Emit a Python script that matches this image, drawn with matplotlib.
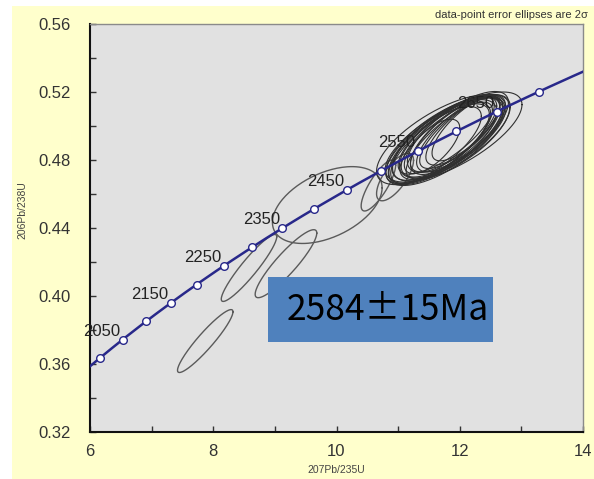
import numpy as np
import matplotlib
matplotlib.use("Agg")
import matplotlib.pyplot as plt
from matplotlib.patches import Rectangle
from matplotlib.ticker import MultipleLocator

# decay constants (1/Ma)
L238 = 1.55125e-4
L235 = 9.8485e-4

marker_ages = [2000, 2050, 2100, 2150, 2200, 2250, 2300, 2350, 2400,
               2450, 2500, 2550, 2600, 2650, 2700]
label_ages = [2050, 2150, 2250, 2350, 2450, 2550, 2650]

# error ellipses: centre x, centre y, 2s x, 2s y, rho
ell_cx = [7.87, 8.58, 9.18, 9.85, 10.68, 10.95,
          11.90, 11.85, 11.80, 11.90, 11.75, 11.95, 12.00, 11.70, 11.88,
          12.05, 11.65, 11.78, 11.92, 12.10, 11.60, 11.83, 11.97, 11.55,
          11.72, 11.86, 12.02, 11.68]
ell_cy = [0.3735, 0.4165, 0.4190, 0.4535, 0.4650, 0.4700,
          0.4935, 0.4935, 0.4930, 0.4950, 0.4910, 0.4945, 0.4960, 0.4920, 0.4925,
          0.4970, 0.4900, 0.4945, 0.4940, 0.4985, 0.4890, 0.4915, 0.4965, 0.4880,
          0.4905, 0.4930, 0.4955, 0.4895]
ell_sx = [0.45, 0.45, 0.50, 0.89, 0.28, 0.30,
          1.11, 0.80, 0.90, 0.70, 0.95, 0.75, 0.65, 1.05, 0.85,
          0.60, 0.85, 0.78, 0.90, 0.55, 0.75, 0.70, 0.82, 0.45,
          0.88, 0.95, 0.72, 0.80]
ell_sy = [0.0185, 0.0197, 0.0200, 0.0226, 0.0150, 0.0140,
          0.0265, 0.0235, 0.0250, 0.0220, 0.0260, 0.0230, 0.0210, 0.0265, 0.0240,
          0.0200, 0.0240, 0.0228, 0.0245, 0.0190, 0.0225, 0.0225, 0.0238, 0.0160,
          0.0250, 0.0255, 0.0225, 0.0235]
ell_rho = [0.93, 0.93, 0.90, 0.45, 0.80, 0.70,
           0.72, 0.74, 0.72, 0.76, 0.70, 0.74, 0.78, 0.70, 0.75,
           0.76, 0.73, 0.77, 0.71, 0.76, 0.74, 0.79, 0.73, 0.68,
           0.72, 0.70, 0.75, 0.74]


def concordia(t):
    t = np.asarray(t, dtype=float)
    return np.exp(L235 * t) - 1, np.exp(L238 * t) - 1


fig = plt.figure(figsize=(5.94, 4.79), dpi=100)
fig.patches.append(Rectangle((12 / 594, 0), 1 - 12 / 594, 1 - 6 / 479,
                             transform=fig.transFigure, facecolor="#ffffcc",
                             edgecolor="none", zorder=-10))
ax = fig.add_axes([90 / 594, 47 / 479, 493 / 594, 408 / 479])
ax.set_facecolor("#e1e1e1")

# ellipses
th = np.linspace(0, 2 * np.pi, 200)
for i, (cx, cy, sx, sy, r) in enumerate(zip(ell_cx, ell_cy, ell_sx, ell_sy, ell_rho)):
    ex = cx + sx * np.cos(th)
    ey = cy + sy * (r * np.cos(th) + np.sqrt(1 - r ** 2) * np.sin(th))
    col = "#5a5a5a" if i < 6 else "#303030"
    ax.plot(ex, ey, color=col, lw=1.0 if i < 6 else 0.8, zorder=2)

# concordia curve
ages = np.linspace(1900, 2800, 400)
cx_, cy_ = concordia(ages)
ax.plot(cx_, cy_, color="#28288a", lw=1.8, zorder=3)
mx, my = concordia(marker_ages)
ax.plot(mx, my, "o", ms=5.5, mfc="white", mec="#28288a", mew=1.0, zorder=4)
lx, ly = concordia(label_ages)
for a, x, y in zip(label_ages, lx, ly):
    ax.annotate(str(a), (x, y), xytext=(-15, 6), textcoords="offset points",
                ha="center", va="center", fontsize=12, color="#222222",
                family="Liberation Sans", zorder=5)

ax.set_xlim(6, 14)
ax.set_ylim(0.32, 0.56)
ax.xaxis.set_major_locator(MultipleLocator(2))
ax.xaxis.set_minor_locator(MultipleLocator(1))
ax.yaxis.set_major_locator(MultipleLocator(0.04))
ax.yaxis.set_minor_locator(MultipleLocator(0.02))
ax.yaxis.set_major_formatter(lambda v, p: f"{v:.2f}")
ax.tick_params(which="both", direction="in", length=4, width=1, color="#333333",
               top=False, right=False)
ax.tick_params(axis="y", which="major", pad=14, labelsize=12, labelcolor="#333333")
ax.tick_params(axis="x", which="major", pad=9, labelsize=12, labelcolor="#333333")
for lab in ax.get_xticklabels() + ax.get_yticklabels():
    lab.set_family("Liberation Sans")

for s in ["left", "bottom"]:
    ax.spines[s].set_color("#111111")
    ax.spines[s].set_linewidth(1.5)
for s in ["top", "right"]:
    ax.spines[s].set_color("#8a8a8a")
    ax.spines[s].set_linewidth(1.0)

ax.set_xlabel("207Pb/235U", fontsize=7.5, color="#444444", family="Liberation Sans",
              labelpad=4)
fig.text(22 / 594, 1 - 210 / 479, "206Pb/238U", rotation=90, fontsize=7.5,
         color="#444444", family="Liberation Sans", ha="center", va="center")
fig.text(588 / 594, 1 - 15 / 479, "data-point error ellipses are 2σ", fontsize=8,
         color="#333333", family=["Liberation Sans", "DejaVu Sans"],
         ha="right", va="center")

# age result box
ax.add_patch(Rectangle((0.361, 0.221), 0.456, 0.159, transform=ax.transAxes,
                       facecolor="#4f81bd", edgecolor="none", zorder=6))
ax.text(0.603, 0.298, "2584±15Ma", transform=ax.transAxes, ha="center",
        va="center", fontsize=25.5, color="black",
        family=["Noto Sans CJK SC", "DejaVu Sans"], zorder=7)

fig.savefig("out.png", dpi=100)
